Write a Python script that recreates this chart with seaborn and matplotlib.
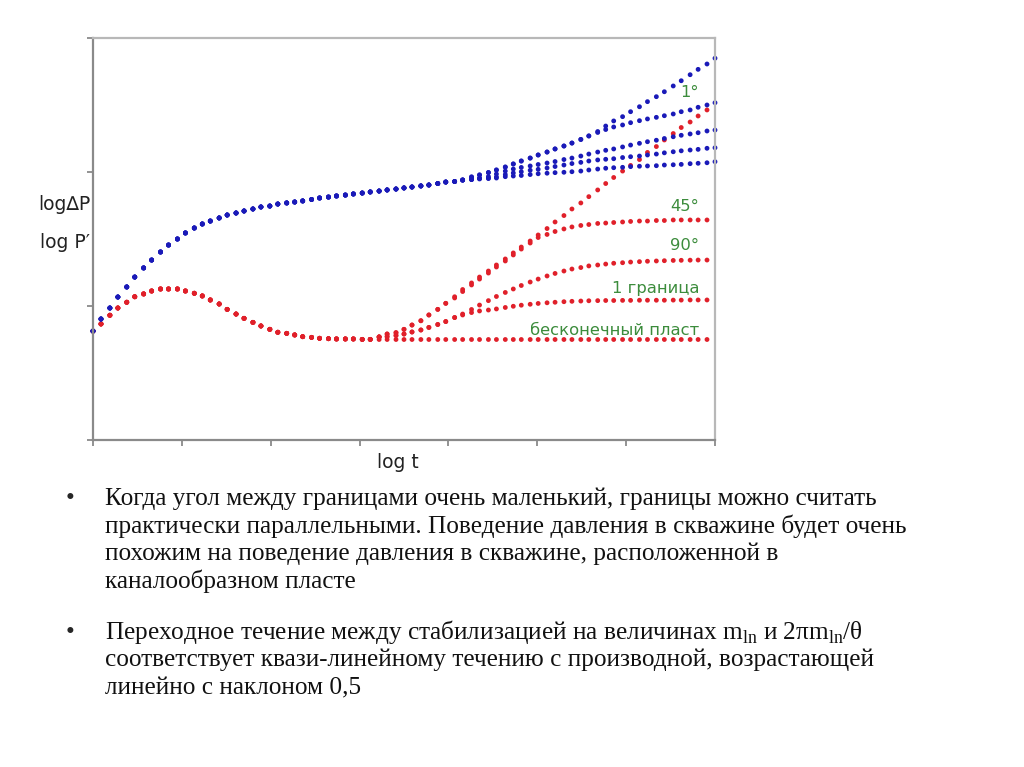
import pandas as pd
import seaborn as sns
import matplotlib.pyplot as plt

# log t sample grid (one dot per step), axis runs 0..7
log_t = [0.00, 0.09, 0.19, 0.28, 0.38, 0.47, 0.57, 0.66, 0.76, 0.85,
         0.95, 1.04, 1.14, 1.23, 1.32, 1.42, 1.51, 1.61, 1.70, 1.80,
         1.89, 1.99, 2.08, 2.18, 2.27, 2.36, 2.46, 2.55, 2.65, 2.74,
         2.84, 2.93, 3.03, 3.12, 3.22, 3.31, 3.41, 3.50, 3.59, 3.69,
         3.78, 3.88, 3.97, 4.07, 4.16, 4.26, 4.35, 4.45, 4.54, 4.64,
         4.73, 4.82, 4.92, 5.01, 5.11, 5.20, 5.30, 5.39, 5.49, 5.58,
         5.68, 5.77, 5.86, 5.96, 6.05, 6.15, 6.24, 6.34, 6.43, 6.53,
         6.62, 6.72, 6.81, 6.91, 7.00]

# log dP - shared part (first 45 dots)
dp_common = [0.813, 0.903, 0.985, 1.067, 1.142, 1.216, 1.284, 1.343, 1.403, 1.455,
             1.500, 1.545, 1.582, 1.612, 1.634, 1.657, 1.679, 1.694, 1.709, 1.724,
             1.739, 1.746, 1.761, 1.769, 1.776, 1.784, 1.795, 1.806, 1.813, 1.821,
             1.828, 1.836, 1.843, 1.851, 1.858, 1.866, 1.873, 1.881, 1.888, 1.896,
             1.903, 1.914, 1.925, 1.929, 1.940]
# log dP - branches (last 30 dots)
dp_1deg = [1.963, 1.978, 1.996, 2.015, 2.037, 2.060, 2.082, 2.104, 2.127, 2.149,
           2.172, 2.194, 2.216, 2.243, 2.269, 2.302, 2.343, 2.381, 2.413, 2.450,
           2.487, 2.525, 2.562, 2.599, 2.642, 2.681, 2.726, 2.766, 2.806, 2.849]
dp_45deg = [1.963, 1.978, 1.996, 2.015, 2.037, 2.060, 2.082, 2.104, 2.127, 2.149,
            2.172, 2.194, 2.216, 2.243, 2.269, 2.295, 2.317, 2.336, 2.351, 2.368,
            2.383, 2.396, 2.408, 2.420, 2.433, 2.450, 2.463, 2.483, 2.500, 2.517]
dp_90deg = [1.944, 1.955, 1.966, 1.985, 2.007, 2.022, 2.034, 2.045, 2.056, 2.067,
            2.078, 2.093, 2.104, 2.119, 2.134, 2.149, 2.162, 2.172, 2.187, 2.201,
            2.214, 2.226, 2.237, 2.250, 2.263, 2.274, 2.284, 2.293, 2.306, 2.313]
dp_1bound = [1.944, 1.951, 1.955, 1.963, 1.981, 1.993, 2.002, 2.013, 2.020, 2.030,
             2.041, 2.052, 2.063, 2.072, 2.082, 2.090, 2.095, 2.099, 2.108, 2.114,
             2.119, 2.127, 2.134, 2.143, 2.151, 2.158, 2.164, 2.169, 2.177, 2.181]
dp_inf = [1.944, 1.948, 1.951, 1.955, 1.965, 1.970, 1.974, 1.981, 1.987, 1.991,
          1.995, 1.998, 2.002, 2.007, 2.015, 2.022, 2.028, 2.032, 2.035, 2.040,
          2.043, 2.045, 2.047, 2.052, 2.054, 2.057, 2.062, 2.065, 2.069, 2.077]

# log P' - shared part (first 34 dots)
der_common = [0.813, 0.866, 0.931, 0.985, 1.028, 1.069, 1.090, 1.112, 1.127, 1.127,
              1.127, 1.112, 1.095, 1.075, 1.045, 1.015, 0.975, 0.940, 0.908, 0.878,
              0.851, 0.826, 0.804, 0.796, 0.784, 0.771, 0.766, 0.759, 0.756, 0.754,
              0.754, 0.754, 0.751, 0.751]
# log P' - branches (next 40 dots)
der_1deg = [0.769, 0.791, 0.801, 0.826, 0.858, 0.890, 0.933, 0.975, 1.020, 1.069,
            1.123, 1.172, 1.216, 1.261, 1.306, 1.351, 1.396, 1.440, 1.485, 1.530,
            1.578, 1.627, 1.675, 1.724, 1.769, 1.816, 1.866, 1.914, 1.959, 2.007,
            2.049, 2.093, 2.146, 2.190, 2.239, 2.287, 2.332, 2.373, 2.418, 2.463]
der_45deg = [0.769, 0.791, 0.801, 0.826, 0.858, 0.890, 0.933, 0.975, 1.020, 1.060,
             1.108, 1.157, 1.201, 1.246, 1.291, 1.336, 1.381, 1.425, 1.470, 1.511,
             1.534, 1.556, 1.575, 1.590, 1.601, 1.608, 1.616, 1.619, 1.623, 1.627,
             1.631, 1.634, 1.634, 1.638, 1.638, 1.642, 1.642, 1.642, 1.642, 1.642]
der_90deg = [0.769, 0.772, 0.780, 0.791, 0.806, 0.821, 0.840, 0.862, 0.884, 0.914,
             0.940, 0.974, 1.007, 1.040, 1.071, 1.101, 1.127, 1.153, 1.179, 1.201,
             1.224, 1.243, 1.261, 1.276, 1.287, 1.299, 1.306, 1.313, 1.319, 1.323,
             1.328, 1.331, 1.334, 1.336, 1.338, 1.340, 1.341, 1.342, 1.343, 1.343]
der_1bound = [0.769, 0.772, 0.780, 0.791, 0.806, 0.821, 0.840, 0.862, 0.884, 0.914,
              0.933, 0.951, 0.963, 0.970, 0.978, 0.989, 0.998, 1.006, 1.013, 1.019,
              1.024, 1.028, 1.032, 1.035, 1.037, 1.039, 1.040, 1.041, 1.041, 1.042,
              1.042, 1.043, 1.043, 1.043, 1.043, 1.044, 1.044, 1.045, 1.045, 1.045]
der_inf = [0.750, 0.750, 0.750, 0.750, 0.750, 0.750, 0.750, 0.750, 0.750, 0.750,
           0.750, 0.750, 0.750, 0.750, 0.750, 0.750, 0.750, 0.750, 0.750, 0.750,
           0.750, 0.750, 0.750, 0.750, 0.750, 0.750, 0.750, 0.750, 0.750, 0.750,
           0.750, 0.750, 0.750, 0.750, 0.750, 0.750, 0.750, 0.750, 0.750, 0.750]

curve_labels = ["1°", "45°", "90°", "1 граница", "бесконечный пласт"]
label_y = [2.59, 1.74, 1.45, 1.13, 0.82]

bullets = [
    ["Когда угол между границами очень маленький, границы можно считать",
     "практически параллельными. Поведение давления в скважине будет очень",
     "похожим на поведение давления в скважине, расположенной в",
     "каналообразном пласте"],
    [r"Переходное течение между стабилизацией на величинах m$_{\mathrm{ln}}$ и 2πm$_{\mathrm{ln}}$/θ",
     "соответствует квази-линейному течению с производной, возрастающей",
     "линейно с наклоном 0,5"],
]

# long table for seaborn
rows = []
der_branches = [der_1deg, der_45deg, der_90deg, der_1bound, der_inf]
dp_branches = [dp_1deg, dp_45deg, dp_90deg, dp_1bound, dp_inf]
for name, br in zip(curve_labels, der_branches):
    for x, y in zip(log_t, der_common + br):
        rows.append({"log_t": x, "value": y, "curve": name, "kind": "der"})
for name, br in zip(curve_labels, dp_branches):
    for x, y in zip(log_t, dp_common + br):
        rows.append({"log_t": x, "value": y, "curve": name, "kind": "dp"})
df = pd.DataFrame(rows)

sns.set_style("white")
plt.rcParams['font.family'] = ['DejaVu Sans']
plt.rcParams['mathtext.fontset'] = 'custom'
plt.rcParams['mathtext.rm'] = 'Liberation Serif'

W, H = 1024, 767
fig = plt.figure(figsize=(W / 100, H / 100), dpi=100)
ax = fig.add_axes([93 / W, 1 - 440 / H, 622 / W, 402 / H])

sns.scatterplot(data=df, x="log_t", y="value", hue="kind",
                palette={"der": "#e0202a", "dp": "#1a1ab8"},
                s=12, linewidth=0, legend=False, ax=ax, clip_on=False)

ax.set_xlim(0, 7)
ax.set_ylim(0, 3)
ax.set_xticks(range(8))
ax.set_yticks(range(4))
ax.set_xticklabels([])
ax.set_yticklabels([])
ax.set_xlabel("")
ax.set_ylabel("")
ax.tick_params(axis="both", direction="out", length=4, width=1.2,
               color="#808080", bottom=True, left=True)
for side in ["left", "bottom"]:
    ax.spines[side].set_color("#8a8a8a")
    ax.spines[side].set_linewidth(1.6)
for side in ["top", "right"]:
    ax.spines[side].set_color("#b8b8b8")
    ax.spines[side].set_linewidth(1.6)

for lab, yv in zip(curve_labels, label_y):
    ax.text(6.82, yv, lab, color="#3c8c3c", fontsize=11.8,
            ha="right", va="center")

def fx(px):
    return px / W

def fy(py):
    return 1 - py / H

fig.text(fx(90), fy(205), "log∆P", fontsize=13.5, ha="right", va="center", color="#222222")
fig.text(fx(90), fy(243), "log P′", fontsize=13.5, ha="right", va="center", color="#222222")
fig.text(fx(398), fy(463), "log t", fontsize=13.5, ha="center", va="center", color="#222222")

serif = ['Liberation Serif', 'DejaVu Serif']
baselines = [[505, 533, 560, 588], [639, 666, 694]]
for para, ys in zip(bullets, baselines):
    fig.text(fx(66), fy(ys[0]), "•", fontsize=18.2, family=serif, va="baseline")
    for line, yb in zip(para, ys):
        fig.text(fx(105), fy(yb), line, fontsize=18.2, family=serif, va="baseline", color="#111111")

fig.savefig("out.png", dpi=100, facecolor="white")
